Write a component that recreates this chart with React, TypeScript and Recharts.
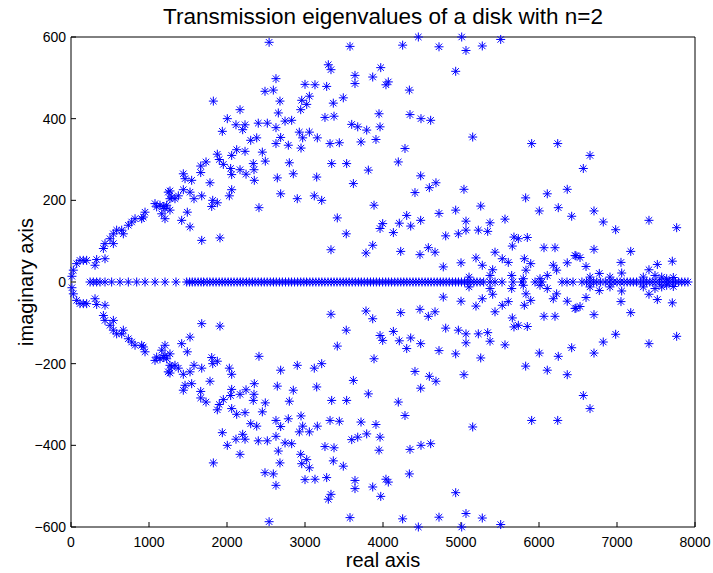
import React from 'react';
import { ScatterChart, Scatter, XAxis, YAxis } from 'recharts';

// eigenvalues with positive imaginary part (the plot is mirrored about the real axis)
const upperPoints: [number, number][] = [
  [12, 14], [30, 29], [73, 45], [115, 53], [158, 53], [201, 53], [308, 41], [329, 55], [436, 57], [415, 82],
  [436, 94], [500, 106], [543, 118], [543, 94], [585, 127], [650, 127], [671, 118], [735, 139], [778, 147],
  [821, 155], [906, 155], [927, 159], [949, 171], [1077, 192], [1098, 184], [1141, 188], [1205, 180],
  [1227, 188], [1247, 220], [1269, 204],
  [2540, 587], [2487, 467], [1825, 443], [2167, 422], [2004, 400], [2115, 385], [2231, 385], [2201, 373],
  [2401, 389], [2517, 389], [1940, 369], [2304, 347], [2381, 353], [2453, 318], [2491, 296], [2124, 324],
  [2231, 320], [2060, 310], [1876, 313], [1901, 300], [1953, 288], [1731, 294], [1663, 284], [1663, 268],
  [2047, 278], [2060, 263], [2167, 275], [2244, 264], [2337, 290], [2346, 275], [2350, 249], [1440, 265],
  [1462, 253], [1547, 249], [1782, 243], [1440, 226], [1526, 220], [1269, 223], [1291, 208], [1333, 204],
  [1376, 211], [1577, 204], [1676, 211], [2060, 226], [2030, 211], [1817, 200], [1876, 194], [1804, 185],
  [1491, 171], [1183, 185], [1163, 167], [1269, 176], [1205, 155], [1419, 151], [1526, 135], [2410, 182],
  [1676, 102], [1910, 108],
  [3577, 577], [3299, 532], [3333, 520], [3641, 506], [3641, 486], [2628, 498], [2594, 470], [3000, 484],
  [3128, 483], [3278, 479], [2679, 443], [2958, 445], [3056, 455], [3022, 435], [2945, 422], [3363, 438],
  [3491, 451], [2658, 414], [2744, 394], [2829, 396], [2628, 378], [3256, 403], [3372, 406], [3599, 386],
  [3676, 380], [3791, 372], [2927, 367], [3056, 367], [2970, 353], [2688, 354], [2628, 339], [2786, 335],
  [3158, 353], [2949, 328], [3321, 339], [3440, 341], [3718, 343], [2799, 292], [2850, 265], [2645, 255],
  [3150, 257], [3342, 290], [3534, 290], [3620, 241], [3812, 274], [2688, 216], [2901, 204], [3119, 211],
  [3214, 200], [3414, 157], [3529, 118], [3333, 79], [3782, 71],
  [4453, 600], [5009, 600], [4252, 580], [4718, 576], [5064, 567], [3971, 525], [3868, 502], [4068, 490],
  [4038, 483], [4338, 470], [4932, 516], [3949, 412], [4346, 410], [4487, 400], [4611, 396], [3962, 380],
  [3910, 349], [4282, 327], [4196, 294], [4483, 260], [4594, 231], [4679, 243], [4410, 219], [5038, 227],
  [3885, 188], [4304, 163], [4209, 144], [3996, 143], [3962, 131], [4133, 121], [4355, 137], [4483, 151],
  [4718, 168], [4932, 176], [5064, 149], [5064, 127], [4966, 118], [4804, 113], [3868, 90], [4227, 75],
  [4474, 67], [4581, 84], [4667, 73], [4773, 37], [5000, 47],
  [5273, 578], [5509, 594], [5150, 355], [5906, 339], [6240, 339], [5829, 206], [6106, 216], [6362, 227],
  [5253, 186], [6004, 174], [6247, 182], [6419, 161], [5372, 145], [5564, 154], [5222, 127], [5342, 124],
  [5679, 110], [5735, 106], [5850, 109], [5658, 88], [6064, 84], [6205, 84], [5436, 73], [5192, 59],
  [5529, 57], [5606, 48], [5812, 57], [5894, 45], [5273, 41], [5406, 30], [5372, 16], [5103, 12],
  [5650, 16], [5833, 29], [5799, 8], [6183, 41], [6226, 29], [6362, 47], [6474, 64], [6106, 16], [6013, 8],
  [6654, 310], [6568, 278], [6705, 174], [6824, 147], [6983, 128], [7410, 151], [7765, 133], [6462, 65],
  [6526, 60], [6705, 80], [7176, 75], [7051, 48], [7709, 51], [6603, 38], [7517, 43], [7410, 30],
  [7060, 22], [6773, 21], [6654, 12], [6910, 12], [7337, 12], [7487, 16], [7573, 12], [7722, 11], [7637, 8],
];

// purely real eigenvalues
const realPoints: number[] = [
  244, 286, 329, 372, 436, 521, 628, 735, 842, 949, 1077, 1205, 1346,
  1483, 1520, 1555, 1590, 1630, 1668, 1700, 1745, 1780, 1822, 1860, 1900, 1938, 1975, 2015, 2052, 2090,
  2130, 2170, 2205, 2248, 2285, 2325, 2360, 2400, 2440, 2478, 2515, 2555, 2596, 2632, 2672, 2710, 2750,
  2790, 2828, 2866, 2905, 2945, 2985, 3020, 3062, 3100, 3140, 3178, 3216, 3255, 3295, 3335, 3372, 3410,
  3450, 3490, 3528, 3566, 3605, 3645, 3685, 3722, 3760, 3800, 3840, 3878, 3915, 3955, 3995, 4034, 4072,
  4110, 4150, 4190, 4228, 4266, 4305, 4345, 4385, 4422, 4460, 4500, 4540, 4578, 4616, 4655, 4695, 4735,
  4772, 4810, 4850, 4890, 4930, 4968, 5006, 5045, 5085, 5125, 5165, 5205, 5245, 5290, 5372, 5436, 5526,
  5667, 5782, 5949, 6038, 6295, 6359, 6436, 6550, 6610, 6654, 6700, 6740, 6790, 6850, 6900, 6950, 7000,
  7040, 7090, 7130, 7170, 7210, 7250, 7300, 7340, 7380, 7420, 7460, 7500, 7545, 7590, 7630, 7670, 7710,
  7750, 7790, 7830, 7870, 7910,
];

const xTicks = [0, 1000, 2000, 3000, 4000, 5000, 6000, 7000, 8000];
const yTicks = [-600, -400, -200, 0, 200, 400, 600];

const data = [
  ...upperPoints.map(([x, y]) => ({ x, y })),
  ...upperPoints.map(([x, y]) => ({ x, y: -y })),
  ...realPoints.map((x) => ({ x, y: 0 })),
];

const FONT = '"Liberation Sans", Arial, Helvetica, sans-serif';
const BLUE = '#0000ff';

const Asterisk = (props: any) => {
  const { cx, cy } = props;
  const r = 4.5;
  const d = 3.2;
  return (
    <g stroke={BLUE} strokeWidth={1}>
      <line x1={cx - r} y1={cy} x2={cx + r} y2={cy} />
      <line x1={cx} y1={cy - r} x2={cx} y2={cy + r} />
      <line x1={cx - d} y1={cy - d} x2={cx + d} y2={cy + d} />
      <line x1={cx - d} y1={cy + d} x2={cx + d} y2={cy - d} />
    </g>
  );
};

// invisible marks so the top/right frame axes get a domain and are drawn
const Nothing = () => <g />;

const fmt = (v: number) => (v < 0 ? '\u2212' + Math.abs(v) : String(v));

export default function App() {
  const tickStyle = { fontSize: 14, fill: '#000', fontFamily: FONT };
  return (
    <div style={{ position: 'absolute', left: 0, top: 0, width: 713, height: 573, background: '#fff' }}>
      <ScatterChart width={713} height={573} margin={{ top: 36, right: 17, bottom: 0, left: 0 }}>
        <XAxis
          xAxisId="b"
          dataKey="x"
          type="number"
          domain={[0, 8000]}
          ticks={xTicks}
          tickFormatter={fmt}
          tickSize={-5}
          tickMargin={15}
          height={46}
          stroke="#000"
          tick={tickStyle}
          label={{ value: 'real axis', position: 'insideBottom', offset: 6, style: { fontSize: 20, fill: '#000', fontFamily: FONT } }}
        />
        <XAxis
          xAxisId="t"
          dataKey="x"
          orientation="top"
          type="number"
          domain={[0, 8000]}
          allowDataOverflow
          ticks={xTicks}
          tickSize={-5}
          height={1}
          stroke="#000"
          tick={false}
          label={{ value: 'Transmission eigenvalues of a disk with n=2', position: 'top', offset: 12, style: { fontSize: 22.5, fill: '#000', fontFamily: FONT } }}
        />
        <YAxis
          yAxisId="l"
          dataKey="y"
          type="number"
          domain={[-600, 600]}
          ticks={yTicks}
          tickFormatter={fmt}
          tickSize={-5}
          tickMargin={10}
          width={71}
          stroke="#000"
          tick={tickStyle}
          label={{ value: 'imaginary axis', angle: -90, position: 'insideLeft', offset: 26, style: { textAnchor: 'middle', fontSize: 20, fill: '#000', fontFamily: FONT } }}
        />
        <YAxis
          yAxisId="r"
          dataKey="y"
          orientation="right"
          type="number"
          domain={[-600, 600]}
          allowDataOverflow
          ticks={yTicks}
          tickSize={-5}
          width={1}
          stroke="#000"
          tick={false}
        />
        <Scatter
          xAxisId="b"
          yAxisId="l"
          data={data}
          shape={Asterisk}
          isAnimationActive={false}
        />
        <Scatter
          xAxisId="t"
          yAxisId="r"
          data={data}
          shape={Nothing}
          isAnimationActive={false}
        />
      </ScatterChart>
    </div>
  );
}
